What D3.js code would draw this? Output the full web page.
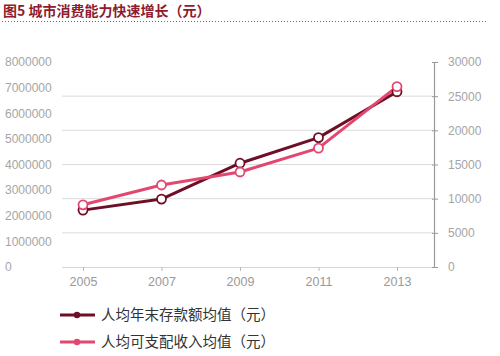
<!DOCTYPE html>
<html><head><meta charset="utf-8">
<script src="https://cdn.jsdelivr.net/npm/d3@7/dist/d3.min.js"></script>
<style>
body{margin:0;background:#fff;}
svg{display:block;}
</style></head>
<body>
<svg id="c" width="500" height="356"></svg>
<script>
const title = "图5 城市消费能力快速增长（元）";
const years = [2005, 2007, 2009, 2011, 2013];
const depositValues = [2220000, 2650000, 4050000, 5050000, 6840000];
const incomeValues = [9100, 12000, 13900, 17400, 26400];
const leftTicks = [0,1000000,2000000,3000000,4000000,5000000,6000000,7000000,8000000];
const rightTicks = [0,5000,10000,15000,20000,25000,30000];
const seriesNames = ["人均年末存款额均值（元）", "人均可支配收入均值（元）"];
const colors = ["#6e0f26", "#e2476f"];

const svg = d3.select("#c");
const numFont = "'Liberation Sans', Arial, sans-serif";
const cjkFont = "'Noto Sans CJK SC', sans-serif";

// title
svg.append("text").attr("x", 3).attr("y", 16)
  .attr("font-family", cjkFont).attr("font-weight", "bold").attr("font-size", 14)
  .attr("fill", "#8e1b2e").text(title);
svg.append("line").attr("x1", 2).attr("x2", 488).attr("y1", 21.5).attr("y2", 21.5)
  .attr("stroke", "#a05060").attr("stroke-width", 1.1).attr("stroke-dasharray", "1,2");

const x = d3.scalePoint().domain(years).range([83, 397]);
const yL = d3.scaleLinear().domain([0, 8000000]).range([267, 62]);
const yR = d3.scaleLinear().domain([0, 30000]).range([267, 62]);

// gridlines
svg.append("g").selectAll("line").data(rightTicks.filter(d => d > 0 && d < 30000)).join("line")
  .attr("x1", 62).attr("x2", 433).attr("y1", d => yR(d)).attr("y2", d => yR(d))
  .attr("stroke", "#dcdcdc").attr("stroke-width", 1);

// bottom axis
const gx = svg.append("g").attr("transform", "translate(0,267)")
  .call(d3.axisBottom(x).tickSize(4).tickPadding(6).tickFormat(d3.format("d")));
gx.select(".domain").attr("d", "M62,0.5H433").attr("stroke", "#d6d6d6");
gx.selectAll(".tick line").attr("stroke", "#bbb");
gx.selectAll("text").attr("font-family", numFont).attr("font-size", 12.5).attr("fill", "#999");

// left axis (labels only)
const gl = svg.append("g").attr("transform", "translate(5,0)")
  .call(d3.axisLeft(yL).tickValues(leftTicks).tickSize(0).tickPadding(0).tickFormat(d3.format("d")));
gl.select(".domain").remove();
gl.selectAll("text").attr("text-anchor", "start").attr("x", 0)
  .attr("font-family", numFont).attr("font-size", 12).attr("fill", "#a5a5a5");

// right axis
const gr = svg.append("g").attr("transform", "translate(434,0)")
  .call(d3.axisRight(yR).tickValues(rightTicks).tickSize(4).tickSizeOuter(4).tickPadding(10).tickFormat(d3.format("d")));
gr.select(".domain").attr("stroke", "#999").attr("stroke-width", 1.2);
gr.selectAll(".tick line").attr("stroke", "#999").attr("x1", -2);
gr.selectAll("text").attr("font-family", numFont).attr("font-size", 12).attr("fill", "#a5a5a5");

// series
const series = [
  {vals: depositValues, y: yL, color: colors[0]},
  {vals: incomeValues, y: yR, color: colors[1]}
];
const line = (ys) => d3.line().x((d, i) => x(years[i])).y(d => ys(d));
series.forEach(s => {
  svg.append("path").datum(s.vals).attr("d", line(s.y))
    .attr("fill", "none").attr("stroke", s.color).attr("stroke-width", 3).attr("stroke-linejoin", "round");
});
series.forEach(s => {
  svg.append("g").selectAll("circle").data(s.vals).join("circle")
    .attr("cx", (d, i) => x(years[i])).attr("cy", d => s.y(d)).attr("r", 4.5)
    .attr("fill", "#fff").attr("stroke", s.color).attr("stroke-width", 1.8);
});

// legend
const legY = [315, 342];
seriesNames.forEach((n, i) => {
  const g = svg.append("g");
  g.append("line").attr("x1", 60).attr("x2", 95).attr("y1", legY[i]).attr("y2", legY[i])
    .attr("stroke", colors[i]).attr("stroke-width", 3);
  g.append("circle").attr("cx", 77).attr("cy", legY[i]).attr("r", 3.2).attr("fill", colors[i]);
  g.append("text").attr("x", 101).attr("y", legY[i]).attr("dy", "0.35em")
    .attr("font-family", cjkFont).attr("font-size", 14.5).attr("fill", "#333").text(n);
});
</script>
</body></html>
